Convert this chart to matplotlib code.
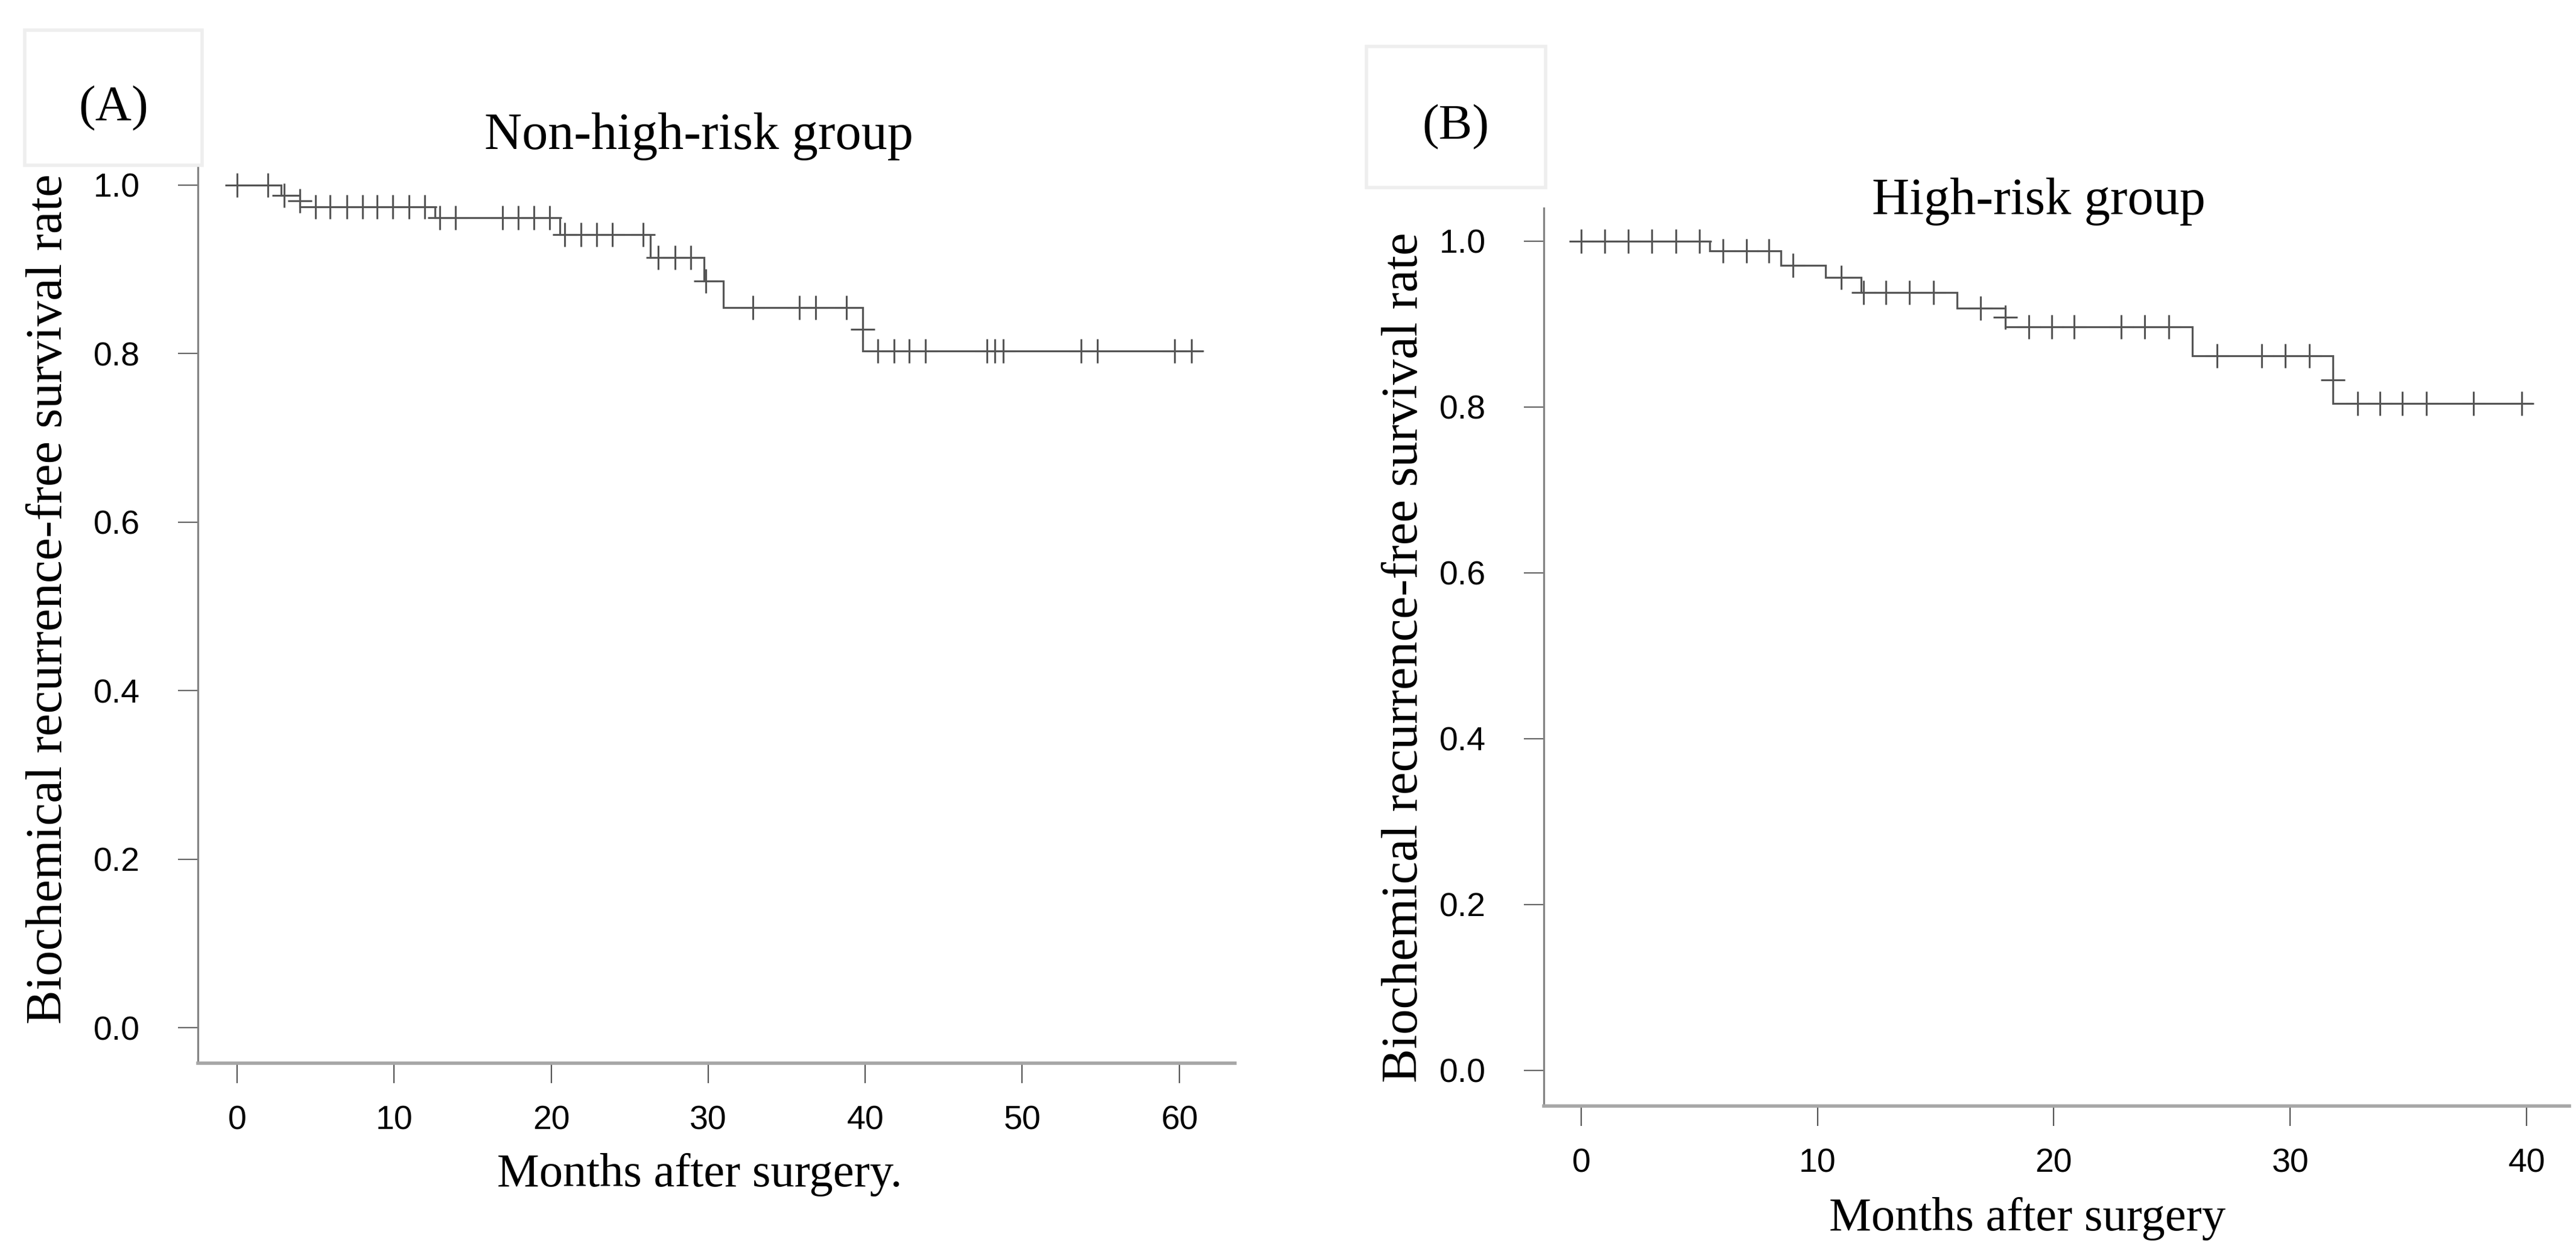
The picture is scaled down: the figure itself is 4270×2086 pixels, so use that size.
import numpy as np
import matplotlib
matplotlib.use('Agg')
import matplotlib.pyplot as plt
from matplotlib.patches import Rectangle

W, H = 4270, 2086

# ---------------- data ----------------
# panel A : non-high-risk group
a_event_t = [2.8, 4.0, 12.6, 20.55, 26.3, 29.75, 30.95, 39.85]
a_event_s = [0.988, 0.974, 0.961, 0.941, 0.914, 0.886, 0.855, 0.803]
a_end = 61.45
a_cens = [0.0, 1.95, 3.0, 5.0, 5.9, 7.0, 8.0, 8.9, 9.9, 10.95, 11.95,
          12.9, 13.9, 16.9, 17.9, 18.9, 19.9, 20.85, 21.9, 22.9, 23.9,
          25.85, 26.8, 27.9, 28.9, 29.85, 32.85, 35.8, 36.85, 38.8,
          40.8, 41.85, 42.8, 43.85, 47.75, 48.25, 48.8, 53.75, 54.8,
          59.7, 60.8]
a_ties = [4.0, 39.85]   # censor marks drawn halfway down a drop

# panel B : high-risk group
b_event_t = [5.45, 8.45, 10.35, 11.85, 15.9, 17.95, 25.85, 31.8]
b_event_s = [0.988, 0.971, 0.956, 0.938, 0.919, 0.897, 0.862, 0.804]
b_end = 40.2
b_cens = [0.0, 1.0, 2.0, 3.0, 4.0, 5.0, 6.0, 7.0, 7.95, 8.95, 11.0,
          11.95, 12.9, 13.9, 14.9, 16.9, 18.95, 19.9, 20.85, 22.85,
          23.85, 24.85, 26.9, 28.8, 29.8, 30.8, 32.85, 33.8, 34.75,
          35.75, 37.75, 39.8]
b_ties = [17.95, 31.8]

a_xticks = [0, 10, 20, 30, 40, 50, 60]
b_xticks = [0, 10, 20, 30, 40]
yticks = [0.0, 0.2, 0.4, 0.6, 0.8, 1.0]

ylab = 'Biochemical recurrence-free survival rate'


def fx(x):
    return x / W


def fy(y):
    return 1 - y / H


def km_panel(ax, ev_t, ev_s, end, cens, ties):
    t = [0.0] + ev_t + [end]
    s = [1.0] + ev_s + [ev_s[-1]]
    ax.step(t, s, where='post', color='#555555', lw=2.3, solid_joinstyle='miter')
    ev_t = np.array(ev_t)
    lev = np.array([1.0] + ev_s)
    cy = []
    for c in cens:
        cy.append(lev[np.searchsorted(ev_t, c, side='right')])
    ax.plot(cens, cy, ls='none', marker='+', ms=29, mew=2.2, color='#555555')
    ty = []
    for c in ties:
        i = np.searchsorted(ev_t, c, side='left')
        ty.append((lev[i] + lev[i + 1]) / 2)
    ax.plot(ties, ty, ls='none', marker='+', ms=29, mew=2.2, color='#555555')


def style(ax, xticks):
    for sp in ['top', 'right']:
        ax.spines[sp].set_visible(False)
    ax.spines['left'].set_color('#808080')
    ax.spines['left'].set_linewidth(2.2)
    ax.spines['bottom'].set_color('#a6a6a6')
    ax.spines['bottom'].set_linewidth(4)
    ax.set_xticks(xticks)
    ax.set_yticks(yticks)
    ax.set_yticklabels(['%.1f' % v for v in yticks])
    ax.tick_params(axis='x', length=24, width=1.6, color='#555555', pad=26,
                   labelsize=40)
    ax.tick_params(axis='y', length=24, width=1.6, color='#666666', pad=45,
                   labelsize=40)
    for lab in ax.get_xticklabels() + ax.get_yticklabels():
        lab.set_fontfamily(['Liberation Sans', 'DejaVu Sans'])


fig = plt.figure(figsize=(W / 100, H / 100), dpi=100)

# panel A
axA = fig.add_axes([fx(328), fy(1763), fx(2047 - 328), (1763 - 251) / H])
km_panel(axA, a_event_t, a_event_s, a_end, a_cens, a_ties)
axA.set_xlim(-2.5, 63.55)
axA.set_ylim(-0.042, 1.04)
style(axA, a_xticks)

# panel B
axB = fig.add_axes([fx(2559), fy(1834), fx(4259 - 2559), (1834 - 345) / H])
km_panel(axB, b_event_t, b_event_s, b_end, b_cens, b_ties)
axB.set_xlim(-1.58, 41.81)
axB.set_ylim(-0.043, 1.04)
style(axB, b_xticks)

serif = ['Liberation Serif', 'DejaVu Serif']

fig.text(fx(1158), fy(247), 'Non-high-risk group', ha='center', va='baseline',
         fontsize=62, family=serif)
fig.text(fx(3379), fy(355), 'High-risk group', ha='center', va='baseline',
         fontsize=62, family=serif)
fig.text(fx(1160), fy(1967), 'Months after surgery.', ha='center', va='baseline',
         fontsize=56.5, family=serif)
fig.text(fx(3360), fy(2040), 'Months after surgery', ha='center', va='baseline',
         fontsize=56.5, family=serif)
fig.text(fx(82), fy(993), ylab, rotation=90, ha='center', va='center',
         fontsize=61, family=serif)
fig.text(fx(2328), fy(1090), ylab, rotation=90, ha='center', va='center',
         fontsize=61, family=serif)

# panel letter boxes
for (x0, y0, x1, y1), lab, (tx, ty) in [((41, 50, 335, 274), '(A)', (188, 180)),
                                        ((2265, 77, 2562, 311), '(B)', (2413, 211))]:
    fig.patches.append(Rectangle((fx(x0), fy(y1)), fx(x1 - x0), (y1 - y0) / H,
                                 transform=fig.transFigure, facecolor='white',
                                 edgecolor='#eeeeee', lw=4, zorder=5))
    fig.text(fx(tx), fy(ty), lab, ha='center', va='center', fontsize=60,
             family=serif, zorder=6)

fig.savefig('out.png', dpi=100, facecolor='white')
